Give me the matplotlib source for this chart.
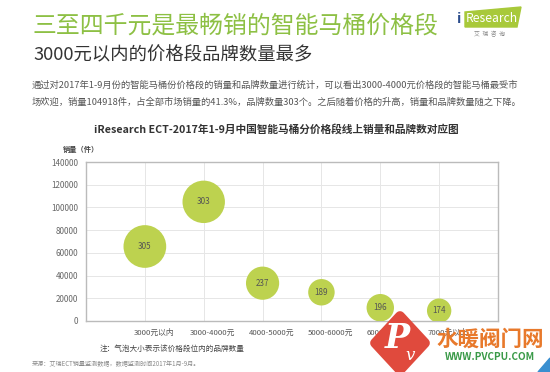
import matplotlib
matplotlib.use("Agg")
import matplotlib.pyplot as plt
import matplotlib.transforms as mtransforms
from matplotlib.patches import Polygon

plt.rcParams["font.family"] = ["Noto Sans CJK SC", "DejaVu Sans"]

# data
categories = ["3000元以内", "3000-4000元", "4000-5000元", "5000-6000元", "6000-7000元", "7000元以上"]
sales = [65600, 104918, 33300, 25300, 11700, 9100]
brands = [305, 303, 237, 189, 196, 174]
y_ticks = [0, 20000, 40000, 60000, 80000, 100000, 120000, 140000]

BUBBLE = "#BDD24F"
TITLE_GREEN = "#8DC044"
W, H = 550, 372

fig = plt.figure(figsize=(W / 100, H / 100), dpi=100)

# ── bubble chart ──
ax = fig.add_axes([86 / W, 1 - 321 / H, 412 / W, 159 / H])
x = list(range(1, len(categories) + 1))
sizes = [(0.1008 * b) ** 2 for b in brands]
ax.scatter(x, sales, s=sizes, color=BUBBLE, edgecolors="none", zorder=3)
for xi, yi, b in zip(x, sales, brands):
    ax.text(xi, yi, str(b), ha="center", va="center", fontsize=5.8,
            color="#555555", zorder=4)

ax.set_xlim(0, len(categories) + 1)
ax.set_ylim(0, 140000)
ax.set_xticks(x)
ax.set_xticklabels(categories, fontsize=5.6, color="#555555")
ax.set_yticks(y_ticks)
ax.set_yticklabels([str(v) for v in y_ticks], fontsize=5.8, color="#666666")
ax.tick_params(length=0, pad=5.5)
offset = mtransforms.ScaledTranslation(0.09, 0, fig.dpi_scale_trans)
for lbl in ax.get_xticklabels():
    lbl.set_transform(lbl.get_transform() + offset)
ax.grid(True, color="#E6E6E6", linewidth=0.7, zorder=0)
ax.set_axisbelow(True)
for sp in ax.spines.values():
    sp.set_color("#BBBBBB")
    sp.set_linewidth(1.0)

# ── overlay in pixel coords for page text and decorations ──
ov = fig.add_axes([0, 0, 1, 1], zorder=10)
ov.set_xlim(0, W)
ov.set_ylim(H, 0)
ov.axis("off")
ov.patch.set_alpha(0)

ov.text(33, 26, "三至四千元是最畅销的智能马桶价格段", fontsize=17.2,
        color=TITLE_GREEN, va="center", ha="left")
ov.text(33, 55, "3000元以内的价格段品牌数量最多", fontsize=13.2,
        color="#333333", va="center", ha="left")
ov.text(32, 85, "通过对2017年1-9月份的智能马桶份价格段的销量和品牌数量进行统计，可以看出3000-4000元价格段的智能马桶最受市",
        fontsize=6.7, color="#555555", va="center", ha="left")
ov.text(32, 102, "场欢迎，销量104918件，占全部市场销量的41.3%，品牌数量303个。之后随着价格的升高，销量和品牌数量随之下降。",
        fontsize=6.7, color="#555555", va="center", ha="left")

ov.text(276, 129, "iResearch ECT-2017年1-9月中国智能马桶分价格段线上销量和品牌数对应图",
        fontsize=7.7, fontweight="bold", color="#333333", va="center", ha="center")
ov.text(63, 149, "销量（件）", fontsize=5.2, fontweight="bold", color="#444444",
        va="center", ha="left")
ov.text(100, 349, "注：气泡大小表示该价格段位内的品牌数量", fontsize=5.5,
        color="#444444", va="center", ha="left")
ov.text(32, 364, "来源：艾瑞ECT销量监测数据，数据监测时间2017年1月-9月。", fontsize=4.4,
        color="#888888", va="center", ha="left")

# iResearch logo
ov.add_patch(Polygon([(465, 12), (521, 7), (517, 27), (465, 27)],
                     closed=True, color="#A8C93A"))
ov.text(459, 19, "i", fontsize=10, fontweight="bold", color="#2B4C8C",
        va="center", ha="center")
ov.text(492, 18, "Research", fontsize=8.7, color="white", va="center", ha="center")
ov.text(489, 34, "艾  瑞  咨  询", fontsize=4.2, color="#888888", va="center", ha="center")

# watermark
ov.add_patch(Polygon([(400, 316), (425, 343), (400, 370), (375, 343)], closed=True,
                     facecolor="#E04A3D", edgecolor="#E04A3D", linewidth=7,
                     joinstyle="round"))
ov.text(397, 338, "P", fontsize=24, fontstyle="italic", fontweight="bold",
        color="white", family="DejaVu Serif", va="center", ha="center")
ov.text(410, 355, "v", fontsize=12, fontstyle="italic", color="white",
        family="DejaVu Serif", va="center", ha="center")
ov.text(490, 339, "水暖阀门网", fontsize=15.5, fontweight="bold", color="#E8792B",
        va="center", ha="center")
ov.text(490, 357, "WWW.PVCPU.COM", fontsize=7.2, fontweight="bold", color="#3A9A48",
        va="center", ha="center")
ov.add_patch(Polygon([(538, 372), (550, 358), (550, 372)], closed=True,
                     color="#3A8FD0"))

fig.savefig("out.png", dpi=100)
